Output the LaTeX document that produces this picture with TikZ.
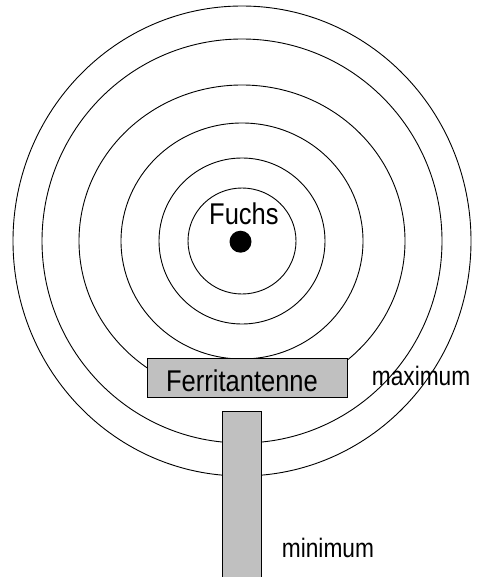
\documentclass[tikz,border=0pt]{standalone}
\usepackage{fontspec}
\setmainfont[FakeStretch=0.85]{Liberation Sans}
\usepackage{tikz}
\usetikzlibrary{positioning}
\definecolor{ferritgray}{RGB}{192,192,192}

\begin{document}
\begin{tikzpicture}[
      x=1pt, y=-1pt,
      wave/.style={draw, line width=0.9pt},
      antenna/.style={draw, line width=0.9pt, fill=ferritgray, inner sep=0pt},
      big/.style={font=\fontsize{30}{36}\selectfont, inner sep=0pt},
      small/.style={font=\fontsize{26.7}{32}\selectfont, inner sep=0pt}
    ]
    \useasboundingbox (0,0) rectangle (478,577);
    \coordinate (fox) at (242,241);
    % field rings round the fox
    \foreach \rx/\ry in {54/53, 83/83, 121/118, 163/156, 200/202, 229/235}
      \draw[wave] (fox) ellipse [x radius=\rx, y radius=\ry];
    \node[circle, fill=black, minimum size=22pt, inner sep=0pt] (dot) at (240.5,241.7) {};
    \node[big, anchor=base west] (fuchs) at (209,224.3) {Fuchs};
    % antenna positions
    \node[antenna, minimum width=200pt, minimum height=39pt] (ferrit) at (247.3,377.8) {};
    \node[big, anchor=base] (ferrittext) at (242,391.7) {Ferritantenne};
    \node[antenna, minimum width=39pt, minimum height=172pt, anchor=north] (rod) at (241.8,410.7) {};
    \node[small, anchor=base west] (maxlabel) at (371.7,385.7) {maximum};
    \node[small, anchor=base west] (minlabel) at (281.7,557.7) {minimum};
  \end{tikzpicture}
\end{document}
